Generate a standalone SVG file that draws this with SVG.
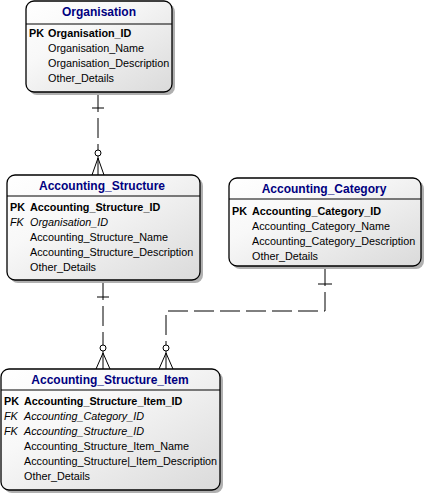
<svg xmlns="http://www.w3.org/2000/svg" width="426" height="496" viewBox="0 0 426 496">
<defs>
<linearGradient id="fill" x1="0" y1="0" x2="1" y2="1">
<stop offset="0" stop-color="#ffffff"/>
<stop offset="0.35" stop-color="#f8f8f8"/>
<stop offset="1" stop-color="#dadada"/>
</linearGradient>
</defs>
<style>
.shadow{fill:#b0b0b0;}
.box{fill:url(#fill);stroke:#000;stroke-width:1.3;}
.hdr{stroke:#000;stroke-width:1;}
.title{font-family:"Liberation Sans",Arial,sans-serif;font-size:12px;font-weight:bold;fill:#000080;text-anchor:middle;}
.row{font-family:"Liberation Sans",Arial,sans-serif;font-size:10.8px;fill:#000;}
.pk{font-weight:bold;}
.fk{font-style:italic;}
.dash{fill:none;stroke:#000;stroke-width:1;stroke-dasharray:20,6;}
.solid{fill:none;stroke:#000;stroke-width:1;}
.circ{fill:#fff;stroke:#000;stroke-width:1;}
</style>
<rect width="426" height="496" fill="#fff"/>

<g id="connectors">
<g id="rel-org-as">
<path class="dash" d="M98,92 V150"/>
<path class="solid" d="M92,108 H104"/>
<circle class="circ" cx="98" cy="153" r="3"/>
<path class="solid" d="M98,156 V175 M98,158 L92,175 M98,158 L104,175"/>
</g>
<g id="rel-as-asi">
<path class="dash" d="M103,280 V345"/>
<path class="solid" d="M97,297 H109"/>
<circle class="circ" cx="103" cy="348" r="3"/>
<path class="solid" d="M103,351 V369 M103,353 L96,369 M103,353 L110,369"/>
</g>
<g id="rel-ac-asi">
<path class="dash" d="M325,266 V311 H166 V345"/>
<path class="solid" d="M318,284 H332"/>
<circle class="circ" cx="166" cy="348" r="3"/>
<path class="solid" d="M166,351 V369 M166,353 L159,369 M166,353 L173,369"/>
</g>
</g>

<g id="Organisation">
<rect class="shadow" x="29" y="4" width="146" height="91" rx="8"/>
<rect class="box" x="26" y="1" width="146" height="91" rx="8"/>
<line class="hdr" x1="26" y1="24" x2="172" y2="24"/>
<text class="title" x="99" y="16">Organisation</text>
<text class="row pk" x="29" y="37">PK</text>
<text class="row pk" x="48" y="37">Organisation_ID</text>
<text class="row" x="48" y="52">Organisation_Name</text>
<text class="row" x="48" y="67">Organisation_Description</text>
<text class="row" x="48" y="82">Other_Details</text>
</g>

<g id="Accounting_Structure">
<rect class="shadow" x="10" y="178" width="193" height="105" rx="8"/>
<rect class="box" x="7" y="175" width="193" height="105" rx="8"/>
<line class="hdr" x1="7" y1="196" x2="200" y2="196"/>
<text class="title" x="102" y="190">Accounting_Structure</text>
<text class="row pk" x="10" y="211">PK</text>
<text class="row pk" x="30" y="211">Accounting_Structure_ID</text>
<text class="row fk" x="10" y="226">FK</text>
<text class="row fk" x="30" y="226">Organisation_ID</text>
<text class="row" x="30" y="241">Accounting_Structure_Name</text>
<text class="row" x="30" y="256">Accounting_Structure_Description</text>
<text class="row" x="30" y="271">Other_Details</text>
</g>

<g id="Accounting_Category">
<rect class="shadow" x="232" y="181" width="192" height="88" rx="8"/>
<rect class="box" x="229" y="178" width="192" height="88" rx="8"/>
<line class="hdr" x1="229" y1="199" x2="421" y2="199"/>
<text class="title" x="324" y="193">Accounting_Category</text>
<text class="row pk" x="232" y="215">PK</text>
<text class="row pk" x="252" y="215">Accounting_Category_ID</text>
<text class="row" x="252" y="230">Accounting_Category_Name</text>
<text class="row" x="252" y="245">Accounting_Category_Description</text>
<text class="row" x="252" y="260">Other_Details</text>
</g>

<g id="Accounting_Structure_Item">
<rect class="shadow" x="4" y="372" width="219" height="121" rx="8"/>
<rect class="box" x="1" y="369" width="219" height="121" rx="8"/>
<line class="hdr" x1="1" y1="390" x2="220" y2="390"/>
<text class="title" x="110" y="384">Accounting_Structure_Item</text>
<text class="row pk" x="4" y="405">PK</text>
<text class="row pk" x="24" y="405">Accounting_Structure_Item_ID</text>
<text class="row fk" x="4" y="420">FK</text>
<text class="row fk" x="24" y="420">Accounting_Category_ID</text>
<text class="row fk" x="4" y="435">FK</text>
<text class="row fk" x="24" y="435">Accounting_Structure_ID</text>
<text class="row" x="24" y="450">Accounting_Structure_Item_Name</text>
<text class="row" x="24" y="465">Accounting_Structure|_Item_Description</text>
<text class="row" x="24" y="480">Other_Details</text>
</g>
</svg>
